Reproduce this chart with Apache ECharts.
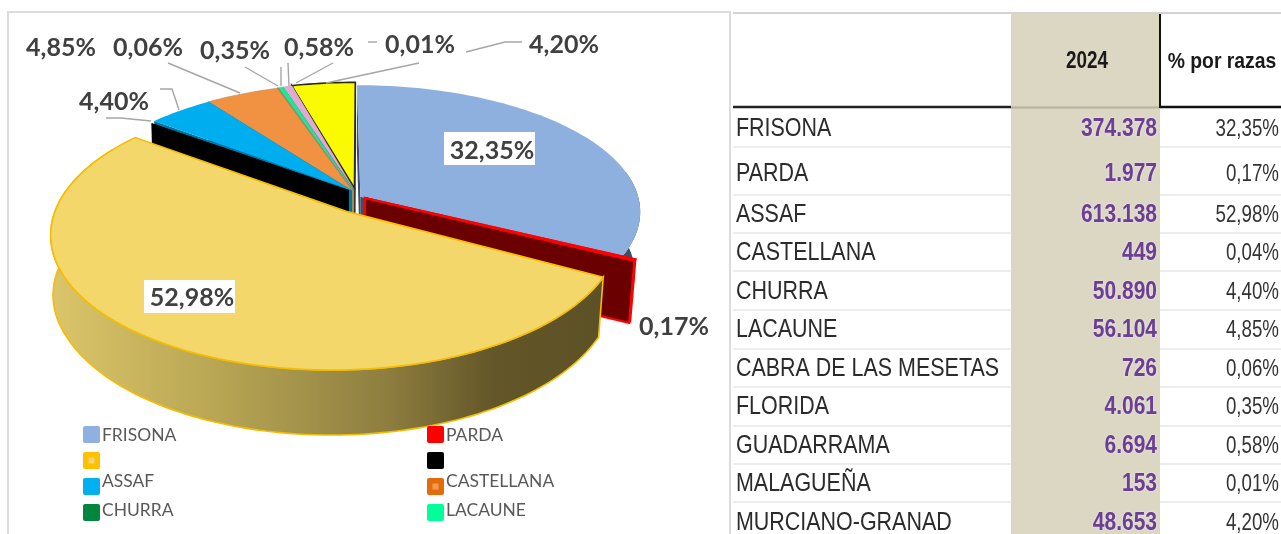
<!DOCTYPE html>
<html><head><meta charset="utf-8">
<style>html,body{margin:0;padding:0;background:#fff}#c{width:1281px;height:534px}</style>
<script src="https://cdn.jsdelivr.net/npm/echarts@6/dist/echarts.min.js"></script>
</head><body><div id="c"></div>
<script>
// ---- data ----
const breeds = ['FRISONA','PARDA','ASSAF','CASTELLANA','CHURRA','LACAUNE','CABRA DE LAS MESETAS','FLORIDA','GUADARRAMA','MALAGUEÑA','MURCIANO-GRANAD'];
const values2024 = [374378,1977,613138,449,50890,56104,726,4061,6694,153,48653];
const valueLabels = ['374.378','1.977','613.138','449','50.890','56.104','726','4.061','6.694','153','48.653'];
const percentLabels = ['32,35%','0,17%','52,98%','0,04%','4,40%','4,85%','0,06%','0,35%','0,58%','0,01%','4,20%'];
const tableHeaders = ['2024','% por razas'];
const legendLabels = ['FRISONA','PARDA','','','ASSAF','CASTELLANA','CHURRA','LACAUNE'];

// ---- styles ----
const sliceColors = ['#8db0de','#6b0000','#f4d76b','#000000','#00adef','#f09241','#8a8a70','#1fe596','#e2a9d2','#3a3a3a','#fafa00'];
const legendColors = ['#8eb1e0','#ff0000','#ffc000','#000000','#00b0f0','#e36c0a','#00863d','#00ff99'];
const legendInner = [null,null,'#f6d76b',null,null,'#f09a5a',null,null];
const cx=357, cy=193, rx=280, ry=124, k=0.15, wallH=62;
// per slice: paint order, arc offset, arc scale, apex offset, padding, wall colour
const sliceGeom = [
 {z:8,ox:0,oz:0,sx:1,sz:1,ax:.012,az:-.03,pad:1.5,wall:'#3f4f66',outer:[80,118]},
 {z:9,ox:.025,oz:-.05,sx:1,sz:1,ax:.028,az:-.04,wall:'#6b0000',stroke:'#ff0000',sw:2.2},
 {z:10,ox:-.075,oz:-.15,sx:.98,sz:1.026,ax:-.038,az:-.145,stroke:'#f5bd00',sw:1.6,outer:[117,300]},
 {z:7,ox:-.012,oz:.0,sx:1,sz:1,ax:-.03,az:.025,wall:'#000000'},
 {z:6,ox:-.005,oz:.02,sx:1,sz:1,ax:-.018,az:.02,wall:'#00759f'},
 {z:5,ox:-.005,oz:.02,sx:1,sz:1,ax:-.018,az:.02,wall:'#a96a2e',stroke:'#c98a50',sw:.6},
 {z:4,ox:-.005,oz:.022,sx:1,sz:1,ax:-.016,az:.02,wall:'#6f6f58',stroke:'#8a8a70',sw:.8},
 {z:3,ox:-.005,oz:.025,sx:1,sz:1,ax:-.014,az:.02,wall:'#5f7f6f',stroke:'#1fe596',sw:.6},
 {z:2,ox:-.005,oz:.03,sx:1,sz:1,ax:-.012,az:.035,wall:'#7d7d88'},
 {z:1,ox:-.005,oz:.03,sx:1,sz:1,ax:-.01,az:.035,wall:'#555'},
 {z:0,ox:-.007,oz:.03,sx:1,sz:1,ax:-.009,az:.04,wall:'#6b6b50',stroke:'#2a2a1a',sw:1.6}
];
const assafWall = {type:'linear',x:50,y:0,x2:605,y2:0,global:true,colorStops:[
 {offset:0,color:'#dcc56a'},{offset:.3,color:'#b8a654'},{offset:.6,color:'#8f7f40'},{offset:.8,color:'#635628'},{offset:1,color:'#5c5126'}]};

// chart label placement (anchor centres) keyed by breed index
const pieLabelPos = {0:[492,151],1:[674,327],2:[192,298],4:[114,102],5:[61,48],6:[148,48],7:[235,51],8:[319,48],9:[420,45],10:[564,45]};
const labelBoxes = {0:[444,132,91,33],2:[144,280,91,33]};
const leaders = [
 [[106,118],[121,118],[151,121]],[[160,89],[172,89],[179,110]],[[168,63],[240,93]],[[245,67],[278,86]],
 [[281,67],[281,86]],[[288,63],[289,86]],[[333,63],[296,83]],[[419,63],[326,83]],
 [[466,52],[505,42],[522,42]],[[368,42],[377,42]]
];
const legendCols=[83,427], legendRows=[426,452,478,504], legendTextY=[435,0,481,510];
const rowCenters=[129,174,215,253,292,330,369,407,446,484,523];
const rowLines=[147,195,233,271,310,349,387,426,464,502];

// ---- geometry from values ----
const total = values2024.reduce((a,b)=>a+b,0);
let acc=0;
const angles = values2024.map(v=>{const s=acc/total*360; acc+=v; return [s,acc/total*360];});
const rad=d=>d*Math.PI/180;
function P(X,Z){const w=1+k*Z; return [cx+rx*X/w, cy-ry*Z/w];}
function down(p,h){const f=p[0]<346?.992:.982; return [346+(p[0]-346)*f, p[1]+(h||wallH)];}
function rim(g,t){return P(g.ox+g.sx*Math.sin(rad(t)), g.oz+g.sz*Math.cos(rad(t)));}
function arc(g,a,b){const n=Math.max(2,Math.ceil(Math.abs(b-a)/1.5)),o=[];for(let i=0;i<=n;i++)o.push(rim(g,a+(b-a)*i/n));return o;}
function renderSlice(params,api){
  const i=params.dataIndex,g=sliceGeom[i],col=sliceColors[i];
  const a=angles[i][0], b=angles[i][1]+(g.pad||0);
  const apex=P(g.ax,g.az), top=arc(g,a,b), kids=[];
  const st={stroke:g.stroke||null,lineWidth:g.sw||0};
  const poly=(pts,fill,s,z2)=>({type:'polygon',shape:{points:pts},style:Object.assign({fill:fill},s),z2:z2,silent:true});
  const base=g.z*10;
  if(g.wall){
    const e0=rim(g,a),e1=rim(g,b);
    kids.push(poly([apex,e0,down(e0),down(apex)],g.wall,st,base));
    kids.push(poly([apex,e1,down(e1),down(apex)],g.wall,st,base+1));
  }
  if(g.outer){
    const oa=arc(g,g.outer[0],g.outer[1]);
    const fill=i===2?assafWall:g.wall;
    kids.push(poly(oa.concat(oa.map(p=>down(p,i===2?60+5*Math.max(0,(p[1]-280)/90):wallH)).reverse()),fill,st,base+2));
  }
  kids.push(poly([apex].concat(top),col,st,base+3));
  return {type:'group',children:kids};
}

// ---- graphics: frame, labels, legend, table ----
const gfx=[];
const F='Lato', N='"Liberation Sans"';
const line=(pts,color,w,z)=>gfx.push({type:'polyline',shape:{points:pts},style:{stroke:color,lineWidth:w,fill:null},z:z||2,silent:true});
const text=(x,y,t,font,fill,align,extra,sx)=>gfx.push({type:'text',x:x,y:y,scaleX:sx||1,z:6,silent:true,style:Object.assign({text:t,font:font,fill:fill,align:align||'left',verticalAlign:'middle'},extra||{})});
line([[8,534],[8,12],[730,12],[730,534]],'#dcdcdc',2,1);
leaders.forEach(l=>line(l,'#a6a6a6',1.4,3));
Object.keys(labelBoxes).forEach(i=>{const b=labelBoxes[i];gfx.push({type:'rect',shape:{x:b[0],y:b[1],width:b[2],height:b[3]},style:{fill:'#fff'},z:5,silent:true});});
Object.keys(pieLabelPos).forEach(i=>{const p=pieLabelPos[i];text(p[0],p[1],percentLabels[i],'bold 25px '+F,'#404040','center');});
legendLabels.forEach((t,i)=>{
  const c=legendCols[i%2],r=Math.floor(i/2),y=legendRows[r];
  gfx.push({type:'rect',shape:{x:c,y:y,width:17,height:17,r:2},style:{fill:legendColors[i]},z:5,silent:true});
  if(legendInner[i])gfx.push({type:'rect',shape:{x:c+5.5,y:y+5.5,width:6,height:6},style:{fill:legendInner[i]},z:6,silent:true});
  if(t)text(c+19,legendTextY[r],t,'18px '+F,'#595959','left',null,.97);
});
// table
gfx.push({type:'rect',shape:{x:1011,y:14,width:149,height:520},style:{fill:'#dbd7c3'},z:1,silent:true});
line([[733,13],[1281,13]],'#c4c4c4',1.5,2);
rowLines.forEach(y=>{line([[733,y],[1011,y]],'#dcdcdc',1.2,2);line([[1160,y],[1281,y]],'#dcdcdc',1.2,2);});
line([[733,107],[1011,107]],'#222',2.5,3);
line([[1011,107.5],[1160,107.5]],'#b5b19e',2,3);
line([[1160,107],[1281,107]],'#111',2.5,3);
line([[1160,14],[1160,108]],'#111',2,3);
text(1087,62,tableHeaders[0],'bold 23px '+N,'#1a1a1a','center',null,.82);
text(1222,62,tableHeaders[1],'bold 22px '+N,'#1a1a1a','center',null,.88);
breeds.forEach((b,i)=>{
  const y=rowCenters[i];
  text(736,y,b,'26px '+N,'#2b2b2b','left',null,.825);
  text(1157,y,valueLabels[i],'bold 25px '+N,'#6b4090','right',{textShadowColor:'#efe6f5',textShadowBlur:3},.84);
  text(1279,y,percentLabels[i],'24px '+N,'#333','right',null,.78);
});

const chart=echarts.init(document.getElementById('c'),null,{renderer:'canvas'});
chart.setOption({
  animation:false,
  backgroundColor:'#fff',
  series:[{type:'custom',coordinateSystem:'none',silent:true,renderItem:renderSlice,
    data:values2024.map((v,i)=>({name:breeds[i],value:v}))}],
  graphic:{elements:gfx}
});
</script></body></html>
